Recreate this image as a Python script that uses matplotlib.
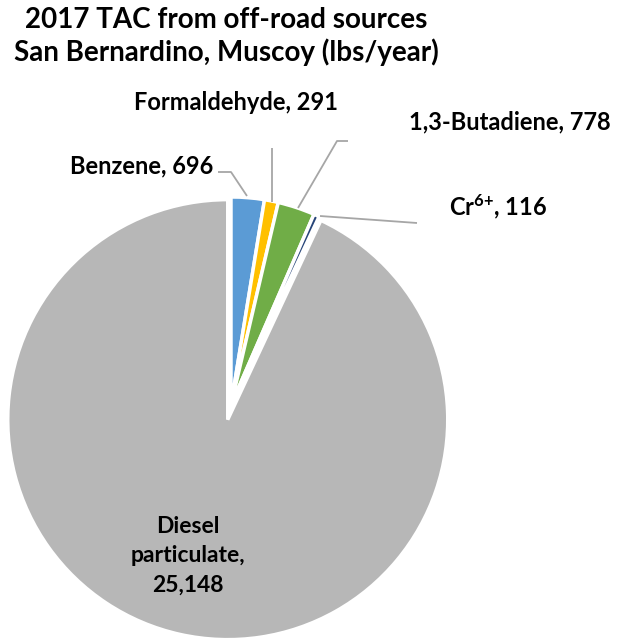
import numpy as np
import matplotlib
matplotlib.use("Agg")
import matplotlib.pyplot as plt

plt.rcParams["font.family"] = ["Lato", "DejaVu Sans"]
plt.rcParams["font.weight"] = "bold"
plt.rcParams["mathtext.fontset"] = "custom"
plt.rcParams["mathtext.rm"] = "Lato:bold"
plt.rcParams["mathtext.it"] = "Lato:bold"
plt.rcParams["mathtext.bf"] = "Lato:bold"

# data (lbs/year)
pollutants = ["Benzene", "Formaldehyde", "1,3-Butadiene", r"Cr$^{6{+}}$", "Diesel\nparticulate"]
emissions = [696, 291, 778, 116, 25148]
colors = ["#5b9bd5", "#ffc000", "#70ad47", "#264478", "#b7b7b7"]

W, H = 619, 638
fig = plt.figure(figsize=(W / 100, H / 100), dpi=100)
ax = fig.add_axes([0, 0, 1, 1])


def py(y):
    # pixel row -> data y
    return H - y


R_big, R_small = 220, 208
wedges, _ = ax.pie(
    emissions,
    colors=colors,
    startangle=90,
    counterclock=False,
    center=(231, py(405)),
    radius=R_big,
    explode=[0, 0, 0, 0, 15],
    wedgeprops=dict(edgecolor="white", linewidth=2.5),
    frame=True,
)
ax.set_xlim(0, W)
ax.set_ylim(0, H)
ax.set_aspect("equal")
ax.axis("off")
for w in wedges[:4]:
    w.set_radius(R_small)

fig.text(0.365, 1 - 20 / H, "2017 TAC from off-road sources", ha="center", va="center",
         fontsize=20, fontweight="bold")
fig.text(0.365, 1 - 52 / H, "San Bernardino, Muscoy (lbs/year)", ha="center", va="center",
         fontsize=20, fontweight="bold")

lc = "#a6a6a6"
fs = 17
# leader lines (pixel coords)
leaders = [
    [(218, 172), (231, 172), (247, 196)],
    [(272, 148), (272, 202)],
    [(348, 141), (337, 141), (298, 208)],
    [(320, 216), (417, 223)],
]
for pts in leaders:
    xs = [p[0] for p in pts]
    ys = [py(p[1]) for p in pts]
    ax.plot(xs, ys, color=lc, lw=1.3, solid_capstyle="butt")

label_pos = [
    (213, 166, "right"),
    (236, 102, "center"),
    (510, 122, "center"),
    (498, 207, "center"),
]
for (x, y, ha), name, val in zip(label_pos, pollutants[:4], emissions[:4]):
    ax.text(x, py(y), f"{name}, {val:,}", ha=ha, va="center", fontsize=fs,
            fontweight="bold")

ax.text(188, py(556), f"{pollutants[4]},\n{emissions[4]:,}", ha="center", va="center",
        fontsize=16.5, fontweight="bold", linespacing=1.5)

fig.savefig("out.png", dpi=100)
